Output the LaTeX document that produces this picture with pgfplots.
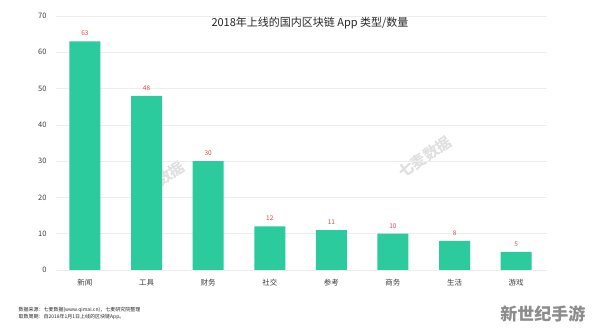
\documentclass[border=0pt]{standalone}
\usepackage{pgfplots}
\pgfplotsset{compat=1.18}
\usepackage{fontspec}
\setmainfont{Noto Sans CJK SC}
\definecolor{barc}{HTML}{2BCB9E}
\definecolor{lab}{HTML}{E04848}
\begin{document}
\begin{tikzpicture}
\useasboundingbox (0pt,0pt) rectangle (594pt,332pt);
\fill[white] (0pt,0pt) rectangle (594pt,332pt);
% watermarks
\node[rotate=35,text=black!12,font=\fontsize{15}{17}\selectfont\bfseries] at (158pt,150pt) {七麦数据};
\node[rotate=35,text=black!12,font=\fontsize{15}{17}\selectfont\bfseries] at (425pt,175pt) {七麦数据};
\begin{axis}[
  at={(56pt,62pt)}, anchor=south west,
  scale only axis, width=491pt, height=254pt,
  xmin=-0.47, xmax=7.5, ymin=0, ymax=70,
  axis line style={draw=none},
  ytick={0,10,...,70},
  xtick={0,...,7},
  xticklabels={新闻,工具,财务,社交,参考,商务,生活,游戏},
  major tick length=0pt,
  ymajorgrids, grid style={draw=black!7, line width=0.6pt},
  tick label style={font=\fontsize{7.5}{9}\selectfont, text=black!75},
  /pgf/number format/assume math mode=true,
  yticklabel style={xshift=-6pt},
  xticklabel style={yshift=-6pt},
  ybar, bar width=31pt,
  nodes near coords,
  every node near coord/.append style={font=\fontsize{6.5}{8}\selectfont, text=lab, yshift=2pt},
]
\addplot[fill=barc, draw=none] coordinates {(0,63) (1,48) (2,30) (3,12) (4,11) (5,10) (6,8) (7,5)};
\end{axis}
\node[font=\fontsize{11}{13}\selectfont, text=black!85] at (310pt,309pt) {2018年上线的国内区块链 App 类型/数量};
\node[anchor=north west, font=\fontsize{5}{6.5}\selectfont, text=black!85, align=left] at (15pt,28pt) {数据来源：七麦数据(www.qimai.cn)，七麦研究院整理\\取数周期：自2018年1月1日上线的区块链App。};
\node[anchor=east, font=\fontsize{17}{19}\selectfont\bfseries, text=black!45] at (589pt,18pt) {新世纪手游};
\end{tikzpicture}
\end{document}
